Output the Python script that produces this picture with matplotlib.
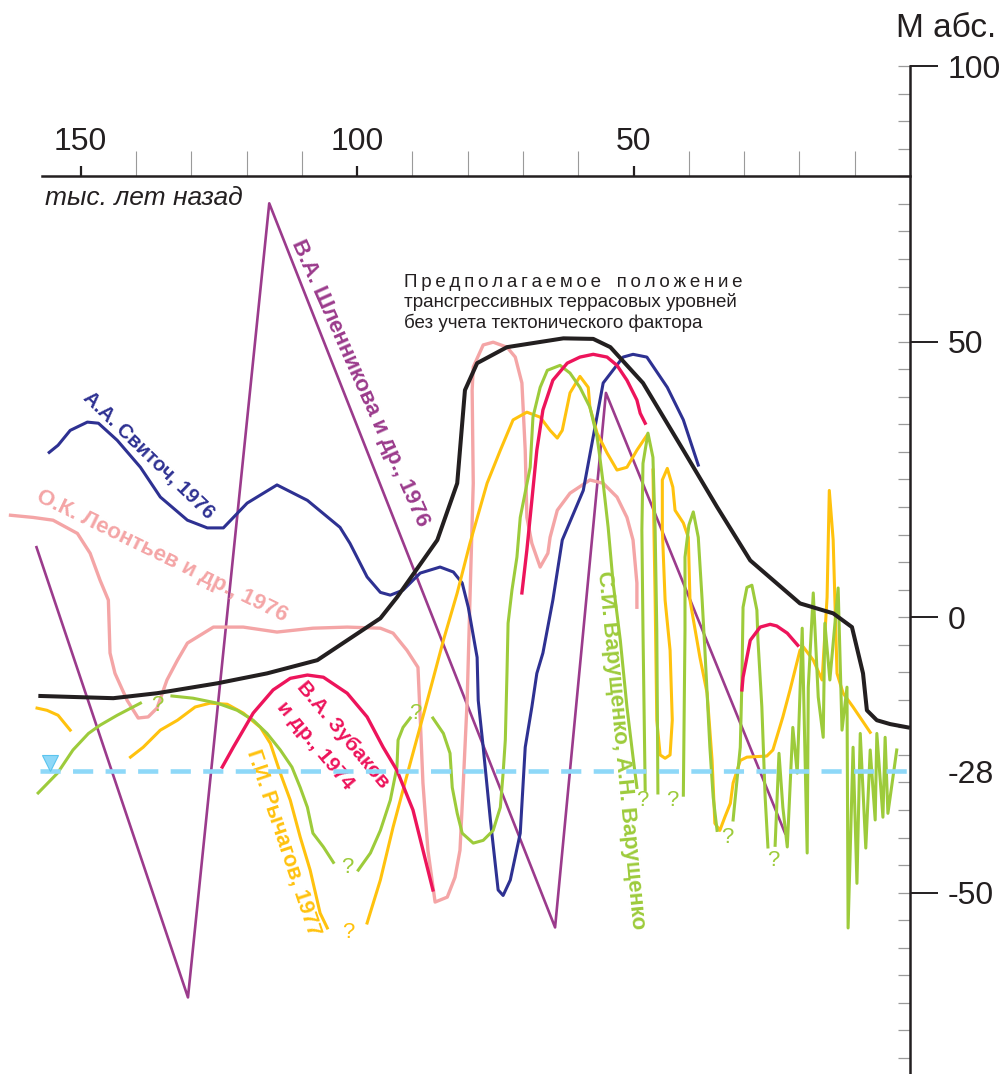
import matplotlib
matplotlib.use("Agg")
import matplotlib.pyplot as plt

plt.rcParams["font.family"] = ["Liberation Sans", "DejaVu Sans"]

# colours of the original scheme
BLACK = "#231f20"
PURPLE = "#9b3b8c"
NAVY = "#2e3192"
PINK = "#f4a5a6"
RED = "#ed145b"
YELLOW = "#ffc20e"
GREEN = "#9dcb3b"
LIGHTBLUE = "#8ed8f8"

# --- data: time (thousand years ago) and level (m abs.) ---

# assumed position of transgressive terrace levels (black)
black_t = [157.3, 144.1, 136.2, 125.3, 116.3, 107.2, 101.8, 95.8, 92.8, 85.5, 81.9, 80.5, 78.3,
           72.9, 62.7, 57.3, 54.2, 48.3, 41.0, 34.9, 28.9, 19.9, 13.9, 10.5, 8.5, 7.8, 6.0, 3.6, 0.4]
black_h = [-14.3, -14.7, -13.8, -12.0, -10.2, -7.8, -4.2, -0.2, 3.6, 14.0, 24.3, 41.2, 46.1,
           49.0, 50.6, 50.5, 49.0, 42.5, 30.3, 20.0, 10.3, 2.5, 0.7, -1.8, -10.2, -16.9, -18.7, -19.4, -20.0]

# В.А. Шленникова и др., 1976
shl_t = [158.0, 130.6, 115.9, 64.2, 55.0, 22.6]
shl_h = [12.7, -69.0, 75.1, -56.3, 40.7, -39.2]

# А.А. Свиточ, 1976
svi_t = [155.7, 154.1, 151.9, 148.8, 146.8, 143.4, 139.2, 135.6, 130.7, 127.1, 124.2, 119.9, 114.5,
         109.0, 103.1, 101.3, 98.2, 95.8, 94.0, 91.7, 88.6, 85.0, 82.6, 81.0, 79.9, 78.3, 78.1, 77.2,
         75.9, 74.5, 73.6, 72.3, 70.5, 69.6, 68.4, 67.5, 66.4, 64.6, 62.9, 59.1, 55.5, 51.9, 50.1,
         47.6, 43.9, 41.0, 38.3]
svi_h = [29.9, 31.2, 33.9, 35.4, 35.2, 32.1, 27.2, 21.8, 17.6, 16.2, 16.2, 20.7, 24.0,
         21.2, 16.3, 13.4, 7.3, 4.5, 4.0, 4.9, 8.0, 9.1, 8.2, 6.2, 1.8, -7.3, -15.1, -23.6,
         -36.8, -49.5, -50.5, -47.7, -39.2, -23.6, -16.3, -10.2, -6.5, 3.1, 14.0, 23.0, 42.5, 47.2, 47.7,
         47.2, 41.7, 35.8, 27.6]

# О.К. Леонтьев и др., 1976
leo_t = [162.7, 158.6, 155.0, 150.6, 148.3, 146.5, 145.0, 144.7, 143.8, 141.6, 139.6, 137.8, 136.2,
         134.4, 132.5, 130.7, 126.0, 120.6, 114.5, 108.0, 101.8, 95.8, 93.5, 91.0, 89.0, 88.6, 88.1,
         87.2, 85.9, 83.7, 82.3, 81.4, 80.8, 80.1, 79.6, 79.0, 79.2, 79.0, 77.2, 75.4, 72.9, 71.4,
         70.2, 69.6, 69.3, 68.4, 66.9, 65.5, 65.1, 63.8, 61.5, 57.9, 55.5, 53.0, 51.2, 50.1, 49.4, 49.4]
leo_h = [18.5, 18.1, 17.6, 15.2, 11.6, 6.7, 3.1, -6.5, -10.2, -15.1, -18.3, -18.1, -16.5,
         -11.4, -7.8, -4.7, -1.8, -1.8, -2.7, -2.0, -1.8, -2.0, -2.9, -6.0, -9.1, -18.1, -30.1,
         -42.3, -51.7, -50.8, -47.2, -42.3, -30.1, -15.1, 3.1, 24.3, 41.2, 45.4, 49.4, 49.9, 49.0, 47.2,
         42.5, 30.3, 18.1, 13.4, 9.1, 11.6, 14.5, 19.4, 22.5, 24.9, 24.3, 21.8, 18.1, 14.0, 6.2, 1.8]

# В.А. Зубаков и др., 1974 (three pieces)
zub1_t = [124.4, 122.4, 118.8, 115.2, 112.1, 109.0, 106.1, 101.8, 98.2, 95.3, 92.8, 89.9, 86.3]
zub1_h = [-27.2, -23.6, -17.4, -13.2, -11.1, -10.5, -10.9, -13.8, -18.1, -23.6, -27.8, -35.0, -49.5]
zub2_t = [70.2, 69.3, 68.4, 67.5, 66.4, 64.6, 62.0, 59.7, 57.3, 54.8, 53.0, 51.2, 49.4, 48.8, 47.9]
zub2_h = [4.4, 12.2, 21.2, 30.3, 37.6, 43.0, 46.1, 47.2, 47.7, 47.2, 45.7, 43.0, 39.4, 37.0, 35.2]
zub3_t = [30.4, 30.2, 28.9, 27.1, 25.3, 24.1, 22.2, 20.3]
zub3_h = [-13.2, -10.9, -4.2, -1.8, -1.3, -1.6, -2.9, -5.1]

# Г.И. Рычагов, 1977 (four pieces)
ryc1_t = [157.9, 156.1, 154.1, 151.9]
ryc1_h = [-16.5, -16.9, -17.8, -20.5]
ryc2_t = [141.0, 138.7, 135.6, 132.5, 129.3, 126.6, 123.5, 120.6, 117.5, 115.7, 113.9, 112.1,
          110.3, 108.5, 106.7, 105.4]
ryc2_h = [-25.4, -23.6, -20.5, -18.7, -16.3, -15.6, -15.8, -17.4, -20.0, -22.9, -28.3, -33.2,
          -39.9, -45.9, -53.7, -56.4]
ryc3_t = [98.2, 95.8, 93.5, 90.4, 87.3, 84.4, 81.9, 79.6, 76.5, 74.1, 71.8, 69.3, 66.9, 65.1,
          63.8, 62.9, 61.5, 59.7, 58.2, 57.9, 56.6, 54.8, 53.0, 51.2, 49.4, 47.6]
ryc3_h = [-55.5, -47.7, -38.1, -26.5, -15.1, -4.2, 4.4, 13.4, 24.3, 30.3, 35.8, 37.2, 36.3, 33.9,
          32.5, 33.9, 40.7, 43.7, 41.7, 38.1, 33.4, 29.8, 26.7, 27.2, 30.3, 33.0]
ryc4_t = [46.5, 46.1, 45.8, 45.2, 44.3, 43.4, 43.0, 43.4, 44.3, 44.8, 44.8, 43.9, 42.9, 42.5,
          41.0, 40.1, 39.8, 38.0, 36.7, 35.8, 35.3, 34.4, 33.5, 32.5, 32.0, 30.7, 29.5, 25.9, 24.8,
          23.0, 21.7, 19.9, 19.3, 17.5, 15.9, 15.0, 14.6, 13.9, 13.6, 13.2, 12.1, 10.3, 7.2]
ryc4_h = [26.7, 3.1, -18.7, -25.0, -25.6, -25.0, -18.7, -6.0, 3.1, 15.8, 24.9, 27.0, 23.6, 19.4,
          17.1, 14.5, 3.1, -7.3, -13.8, -26.0, -37.4, -38.7, -36.3, -33.8, -30.1, -26.0, -25.4, -25.2, -24.1,
          -18.1, -13.2, -6.0, -5.4, -7.8, -11.4, 3.6, 23.0, 14.0, 3.6, -10.2, -13.8, -16.3, -20.9]

# С.И. Варущенко, А.Н. Варущенко (several pieces)
var_pieces = [
    ([157.7, 154.2, 151.4, 148.6, 146.5, 143.4, 139.2],
     [-31.9, -28.3, -24.1, -21.1, -19.6, -17.8, -15.6]),
    ([133.5, 129.7, 125.3, 121.7, 118.8, 116.3, 113.9, 111.8, 110.3, 109.0, 108.0, 106.1, 104.3],
     [-14.3, -14.7, -15.6, -16.9, -18.7, -21.1, -24.1, -27.2, -30.9, -34.5, -39.2, -41.7, -44.5]),
    ([99.8, 97.6, 95.8, 94.0, 92.8, 92.6, 91.7, 90.4],
     [-45.9, -42.8, -38.7, -33.2, -27.2, -22.3, -20.0, -18.3]),
    ([86.3, 84.4, 83.2, 82.8, 81.9, 81.0, 79.0, 77.2, 75.4, 74.1, 73.6, 73.2, 72.9, 72.7, 72.0,
      71.1, 70.5, 68.7, 68.2, 66.9, 65.6, 63.3, 61.5, 59.7, 57.9, 56.6, 56.1, 55.5, 54.6, 53.7,
      52.4, 51.2, 50.1, 49.4],
     [-18.3, -21.1, -24.7, -30.9, -35.6, -39.2, -41.0, -40.5, -38.7, -34.5, -28.3, -22.3, -10.2, -1.1, 4.9,
      10.9, 18.1, 27.2, 36.3, 41.7, 44.8, 45.7, 44.3, 41.7, 38.1, 32.7, 29.0, 24.3, 16.3, 6.2,
      -4.2, -16.3, -25.4, -30.9]),
    ([47.9, 48.3, 48.5, 48.3, 47.4, 46.5, 46.1, 45.8, 45.6],
     [-31.4, -2.4, 15.8, 27.9, 33.4, 29.0, 15.8, -2.4, -31.9]),
    ([41.0, 40.7, 40.7, 40.0, 39.2, 38.3, 37.6, 37.1, 36.2, 35.6, 34.9],
     [-32.3, -2.4, 10.9, 16.7, 19.1, 14.5, 3.1, -6.0, -23.6, -32.7, -38.7]),
    ([32.0, 31.3, 30.7, 30.4, 30.2, 29.5, 28.6, 27.7, 27.5, 26.8, 26.2, 25.7],
     [-36.8, -29.6, -23.6, -11.4, 1.8, 5.4, 5.8, 1.3, -4.2, -16.3, -32.7, -41.7]),
    ([24.4, 23.7, 23.0, 22.2, 21.2, 20.4, 19.5, 18.6, 18.4, 17.5, 16.6, 15.7, 15.4, 14.5, 13.0,
      12.3, 11.4, 11.2, 10.3, 9.6, 9.0, 8.0, 7.2, 6.3, 6.0, 4.9, 4.5, 4.0, 2.4],
     [-41.4, -24.7, -34.5, -41.7, -20.0, -28.3, -2.0, -42.8, -12.7, 4.4, -14.5, -21.8, -1.1, -11.4, 5.3,
      -20.5, -12.7, -56.4, -23.6, -48.3, -21.1, -41.9, -24.1, -36.8, -21.1, -36.3, -21.8, -35.6, -24.1]),
]

# question marks at the open ends
green_q_t = [136.2, 101.8, 89.5, 48.5, 43.0, 33.1, 24.8]
green_q_h = [-16.0, -45.4, -17.4, -33.2, -33.2, -39.9, -44.1]
yellow_q_t = [101.6]
yellow_q_h = [-57.2]

# present Caspian level
caspian_level = -28
level_t = [157.3, 0.4]

# axis ticks
x_major = [150, 100, 50]
x_minor = [140, 130, 120, 110, 90, 80, 70, 60, 40, 30, 20, 10]
y_major = [100, 50, 0, -28, -50]
y_minor = list(range(-80, 101, 5))

# --- figure ---
fig = plt.figure(figsize=(10.04, 10.74), dpi=100)
ax = fig.add_axes([0, 0, 1, 1])
ax.set_xlim(164.6, -17.0)
ax.set_ylim(-82.9, 112.0)

ax.plot(shl_t, shl_h, color=PURPLE, lw=1.9, zorder=2)
ax.plot(leo_t, leo_h, color=PINK, lw=2.4, zorder=2)
ax.plot(svi_t, svi_h, color=NAVY, lw=2.2, zorder=3)
for t, h in [(ryc1_t, ryc1_h), (ryc2_t, ryc2_h), (ryc3_t, ryc3_h), (ryc4_t, ryc4_h)]:
    ax.plot(t, h, color=YELLOW, lw=2.2, zorder=3)
for t, h in var_pieces:
    ax.plot(t, h, color=GREEN, lw=2.2, zorder=3)
for t, h in [(zub1_t, zub1_h), (zub2_t, zub2_h), (zub3_t, zub3_h)]:
    ax.plot(t, h, color=RED, lw=2.4, zorder=4)
ax.plot(black_t, black_h, color=BLACK, lw=2.9, zorder=5)

# dashed -28 m line and marker
ax.plot(level_t, [caspian_level] * 2, color=LIGHTBLUE, lw=3.3, dashes=(4.4, 2.7),
        solid_capstyle="butt", dash_capstyle="butt", zorder=6)
ax.plot([155.5], [caspian_level + 1.5], marker="v", ms=11, color=LIGHTBLUE,
        mec="#5bc4ee", mew=0.8, zorder=6)

for t, h in zip(green_q_t, green_q_h):
    ax.text(t, h, "?", color=GREEN, fontsize=16, ha="center", va="center")
for t, h in zip(yellow_q_t, yellow_q_h):
    ax.text(t, h, "?", color=YELLOW, fontsize=16, ha="center", va="center")

# curve labels
lab = dict(ha="center", va="center", rotation_mode="anchor", weight="bold")
ax.text(137.8, 29.4, "А.А. Свиточ, 1976", color=NAVY, rotation=-44, fontsize=14.5, **lab)
ax.text(135.3, 11.1, "О.К. Леонтьев и др., 1976", color=PINK, rotation=-26, fontsize=16, **lab)
ax.text(99.5, 42.5, "В.А. Шленникова и др., 1976", color=PURPLE, rotation=-66, fontsize=16, **lab)
ax.text(102.5, -21.4, "В.А. Зубаков", color=RED, rotation=-50, fontsize=15, **lab)
ax.text(107.6, -23.2, "и др., 1974", color=RED, rotation=-50, fontsize=15, **lab)
ax.text(113.4, -41.0, "Г.И. Рычагов, 1977", color=YELLOW, rotation=-71.5, fontsize=15.5, **lab)
ax.text(52.4, -24.1, "С.И. Варущенко, А.Н. Варущенко", color=GREEN, rotation=-84.5,
        fontsize=16, **lab)

# letter-spaced first line, like the justified original
spaced = "\u2009".join("Предполагаемое") + "   " + "\u2009".join("положение")
ax.text(91.5, 57.0,
        spaced + "\n"
        "трансгрессивных террасовых уровней\n"
        "без учета тектонического фактора",
        color=BLACK, fontsize=13.5, ha="left", va="center", linespacing=1.15)

ax.text(156.4, 76.0, "тыс. лет назад", style="italic", fontsize=19, color=BLACK,
        ha="left", va="center")
ax.text(-6.5, 106.9, "М абс.", fontsize=24, color=BLACK, ha="center", va="center")

# axes: top time scale at 80 m, level scale at 0 ka
for side in ["left", "bottom"]:
    ax.spines[side].set_visible(False)
ax.spines["top"].set_position(("data", 80))
ax.spines["top"].set_bounds(0, 157)
ax.spines["right"].set_position(("data", 0))
ax.spines["right"].set_bounds(-83, 100)
for side in ["top", "right"]:
    ax.spines[side].set_linewidth(1.8)
    ax.spines[side].set_color(BLACK)

ax.xaxis.set_ticks_position("top")
ax.set_xticks(x_major, [str(v) for v in x_major])
ax.set_xticks(x_minor, minor=True)
ax.tick_params(axis="x", which="major", direction="out", length=7.2, width=1.6,
               color=BLACK, labelsize=23, labelcolor=BLACK, pad=7)
ax.tick_params(axis="x", which="minor", direction="out", length=18, width=0.8, color="#9a9a9a")

ax.yaxis.set_ticks_position("right")
ax.yaxis.remove_overlapping_locs = False
ax.set_yticks(y_major, [str(v) for v in y_major])
ax.set_yticks(y_minor, minor=True)
ax.tick_params(axis="y", which="major", direction="out", length=20, width=1.4,
               color=BLACK, labelsize=23, labelcolor=BLACK, pad=7)
ax.tick_params(axis="y", which="minor", direction="in", length=8.6, width=0.9, color="#9a9a9a")
ax.yaxis.get_major_ticks()[3].tick2line.set_visible(False)

fig.savefig("out.png", dpi=100)
